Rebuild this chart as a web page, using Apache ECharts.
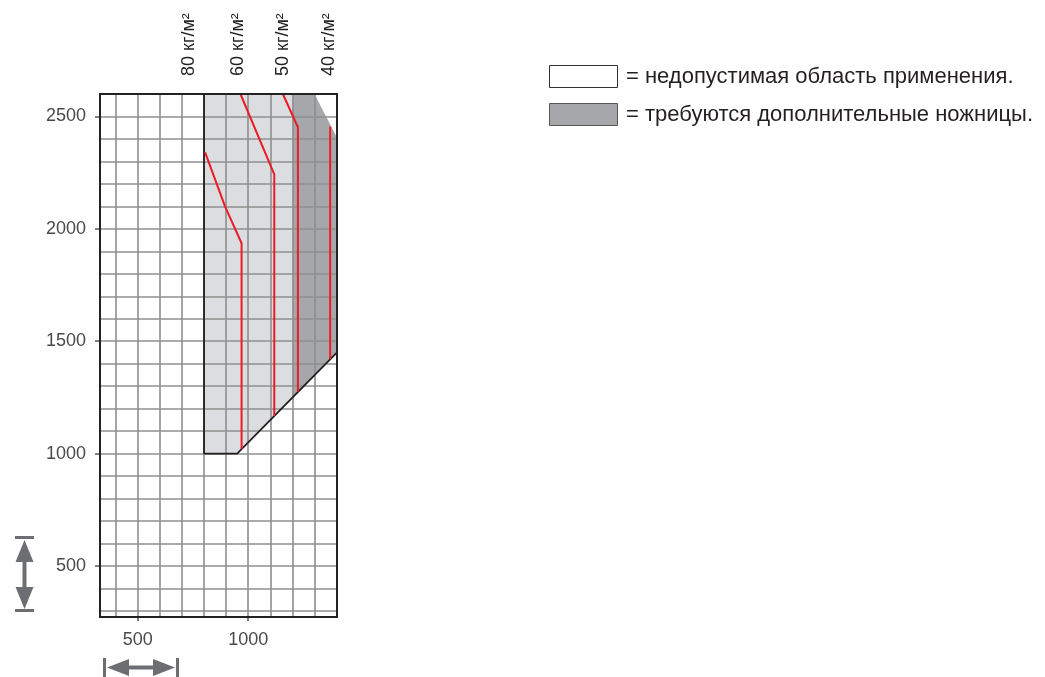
<!DOCTYPE html>
<html>
<head>
<meta charset="utf-8">
<script src="https://cdn.jsdelivr.net/npm/echarts@6/dist/echarts.min.js"></script>
<style>
html, body { margin: 0; padding: 0; background: #fff; }
#main { width: 1045px; height: 677px; }
</style>
</head>
<body>
<div id="main"></div>
<script>
var myChart = echarts.init(document.getElementById('main'));

// Axis ranges and labelled ticks
const xRange = [329, 1402];
const yRange = [273, 2600];
const xTicks = [500, 1000];
const yTicks = [500, 1000, 1500, 2000, 2500];
const gridStep = 100;

// Zones (width, height pairs)
const lightZone = [[800, 1000], [950, 1000], [1200, 1250], [1200, 2600], [800, 2600]];
const darkZone = [[1200, 1250], [1400, 1448], [1400, 2410], [1300, 2600], [1200, 2600]];
const zoneOutline = [[800, 2600], [800, 1000], [950, 1000], [1400, 1448]];

// Limit lines per paper weight
const densityLabels = ['80 кг/м²', '60 кг/м²', '50 кг/м²', '40 кг/м²'];
const line80 = [[805, 2340], [895, 2100], [970, 1936], [970, 1020]];
const line60 = [[965, 2600], [1118, 2242], [1118, 1168]];
const line50 = [[1157, 2600], [1225, 2452], [1225, 1275]];
const line40 = [[1371, 2455], [1371, 1421]];

const legendTexts = ['= недопустимая область применения.', '= требуются дополнительные ножницы.'];

const labelFont = { fontFamily: 'Liberation Sans', fontSize: 18, color: '#4a4a4a' };

function zoneSeries(points, color) {
    return {
        type: 'custom',
        z: 1,
        silent: true,
        data: [0],
        renderItem: function (params, api) {
            return {
                type: 'polygon',
                shape: { points: points.map(p => api.coord(p)) },
                style: { fill: color }
            };
        }
    };
}

function redLine(points) {
    return {
        type: 'line',
        z: 3,
        data: points,
        showSymbol: false,
        lineStyle: { color: '#ec1c24', width: 2 },
        silent: true
    };
}

// axis that only carries the labelled ticks
function labelAxis(range, ticks, pos, tickLen) {
    return {
        type: 'value', min: range[0], max: range[1], position: pos, z: 2,
        minInterval: 500, maxInterval: 500,
        axisLine: { show: false },
        axisTick: { show: true, length: tickLen, customValues: ticks, lineStyle: { color: '#555', width: 1.5 } },
        axisLabel: Object.assign({
            margin: 14, customValues: ticks,
            formatter: v => String(v)
        }, labelFont),
        splitLine: { show: false }
    };
}

function gridAxis(range, pos) {
    return {
        type: 'value', min: range[0], max: range[1], position: pos, z: 2,
        minInterval: gridStep, maxInterval: gridStep,
        axisLine: { show: false }, axisTick: { show: false }, axisLabel: { show: false },
        splitLine: { show: true, lineStyle: { color: '#8f8f8f', width: 1.6 } }
    };
}

// arrows showing the 500 mm step
function arrowGraphics() {
    const c = '#6d6e71';
    return [
        // vertical
        { type: 'rect', shape: { x: 15, y: 536, width: 19, height: 3 }, style: { fill: c } },
        { type: 'rect', shape: { x: 15, y: 609, width: 19, height: 3 }, style: { fill: c } },
        { type: 'rect', shape: { x: 22.5, y: 555, width: 4, height: 38 }, style: { fill: c } },
        { type: 'polygon', shape: { points: [[24.5, 540], [15.5, 562], [33.5, 562]] }, style: { fill: c } },
        { type: 'polygon', shape: { points: [[24.5, 609], [15.5, 587], [33.5, 587]] }, style: { fill: c } },
        // horizontal
        { type: 'rect', shape: { x: 103, y: 658, width: 3, height: 19 }, style: { fill: c } },
        { type: 'rect', shape: { x: 176, y: 658, width: 3, height: 19 }, style: { fill: c } },
        { type: 'rect', shape: { x: 122, y: 665.5, width: 38, height: 4 }, style: { fill: c } },
        { type: 'polygon', shape: { points: [[107, 667.5], [129, 659], [129, 676]] }, style: { fill: c } },
        { type: 'polygon', shape: { points: [[175, 667.5], [153, 659], [153, 676]] }, style: { fill: c } }
    ];
}

const topLabelX = [189, 238, 283, 329];

var option = {
    animation: false,
    grid: {
        left: 100, right: 708, top: 94, bottom: 60,
        show: true, z: 4,
        borderColor: '#222', borderWidth: 2,
        backgroundColor: 'transparent'
    },
    xAxis: [gridAxis(xRange, 'bottom'), labelAxis(xRange, xTicks, 'bottom', 4)],
    yAxis: [gridAxis(yRange, 'left'), labelAxis(yRange, yTicks, 'left', 5)],
    series: [
        zoneSeries(lightZone, '#dcdde0'),
        zoneSeries(darkZone, '#a6a7ab'),
        {
            type: 'line', z: 3, data: zoneOutline, showSymbol: false, silent: true,
            lineStyle: { color: '#231f20', width: 1.8 }
        },
        redLine(line80),
        redLine(line60),
        redLine(line50),
        redLine(line40)
    ],
    graphic: [
        // legend boxes
        { type: 'rect', shape: { x: 549.5, y: 65.5, width: 68, height: 22 }, style: { fill: '#fff', stroke: '#333', lineWidth: 1 } },
        { type: 'rect', shape: { x: 549.5, y: 103.5, width: 68, height: 22 }, style: { fill: '#a6a7ab', stroke: '#555', lineWidth: 1 } },
        { type: 'text', x: 626, y: 77, style: { text: legendTexts[0], fontFamily: 'Liberation Sans', fontSize: 22, fill: '#231f20', verticalAlign: 'middle' } },
        { type: 'text', x: 626, y: 115, style: { text: legendTexts[1], fontFamily: 'Liberation Sans', fontSize: 22, fill: '#231f20', verticalAlign: 'middle' } }
    ].concat(densityLabels.map((t, i) => ({
        type: 'text', x: topLabelX[i], y: 76, rotation: Math.PI / 2,
        style: { text: t, fontFamily: 'Liberation Sans', fontSize: 18, fill: '#231f20', align: 'left', verticalAlign: 'middle' }
    }))).concat(arrowGraphics())
};

myChart.setOption(option);
</script>
</body>
</html>
